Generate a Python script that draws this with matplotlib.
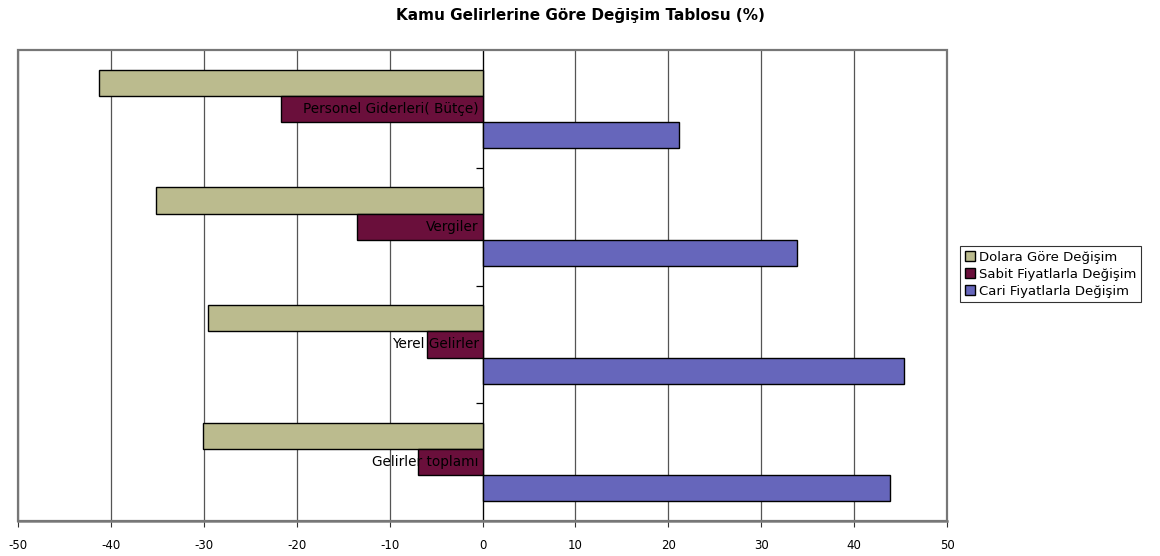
import matplotlib.pyplot as plt
from matplotlib.patches import Rectangle
import numpy as np

# categories listed bottom-to-top (as the chart stacks them)
categories = ["Gelirler toplamı", "Yerel Gelirler", "Vergiler", "Personel Giderleri( Bütçe)"]
series_names = ["Dolara Göre Değişim", "Sabit Fiyatlarla Değişim", "Cari Fiyatlarla Değişim"]
dolar = [-30.1, -29.5, -35.1, -41.3]
sabit = [-6.9, -6.0, -13.5, -21.7]
cari = [43.9, 45.4, 33.8, 21.2]
x_ticks = [-50, -40, -30, -20, -10, 0, 10, 20, 30, 40, 50]

colors = ["#BBBB8E", "#6A0F3B", "#6666BB"]

plt.rcParams["font.family"] = ["DejaVu Sans"]

fig = plt.figure(figsize=(11.6, 5.56), dpi=100)
ax = fig.add_axes([0.0155, 0.0629, 0.8009, 0.847])

y = np.arange(len(categories))
h = 1 / 4.5
for vals, off, col, name in zip([dolar, sabit, cari], [h, 0, -h], colors, series_names):
    ax.barh(y + off, vals, height=h, color=col, edgecolor="black", linewidth=1.0,
            label=name, zorder=2)

ax.set_xlim(-50, 50)
ax.set_ylim(-0.5, len(categories) - 0.5)
ax.set_xticks(x_ticks)
ax.set_xticklabels([str(t) for t in x_ticks], fontsize=8.5)
ax.tick_params(axis="x", direction="out", length=4, color="#333333", pad=9)

# vertical grid lines behind the bars
for t in x_ticks:
    ax.axvline(t, color="black" if t == 0 else "#555555", linewidth=0.9, zorder=0)

# y axis sits at zero, ticks at category boundaries
ax.spines["left"].set_position(("data", 0))
ax.spines["left"].set_color("black")
ax.spines["left"].set_zorder(1)
ax.set_yticks(np.arange(len(categories) - 1) + 0.5)
ax.set_yticklabels([])
ax.tick_params(axis="y", direction="out", length=5, width=0.9)
for s in ["top", "right"]:
    ax.spines[s].set_visible(False)
ax.spines["bottom"].set_color("#888888")
ax.spines["bottom"].set_linewidth(1.8)

# frame of plot area
ax.add_patch(Rectangle((0, 0), 1, 1, transform=ax.transAxes, fill=False,
                       edgecolor="#777777", linewidth=1.6, zorder=3, clip_on=False))

for i, name in enumerate(categories):
    ax.text(-0.4, i, name, ha="right", va="center", fontsize=9.8, zorder=5)

fig.suptitle("Kamu Gelirlerine Göre Değişim Tablosu (%)", fontsize=11,
             fontweight="bold", x=0.5, y=0.985)

leg = fig.legend(loc="center left", bbox_to_anchor=(0.8275, 0.507), fontsize=9.5,
                 frameon=True, fancybox=False, edgecolor="black", handlelength=0.8,
                 handleheight=0.8, handletextpad=0.3, labelspacing=0.3,
                 borderpad=0.35, borderaxespad=0)
leg.get_frame().set_linewidth(0.8)

fig.savefig("out.png", dpi=100)
